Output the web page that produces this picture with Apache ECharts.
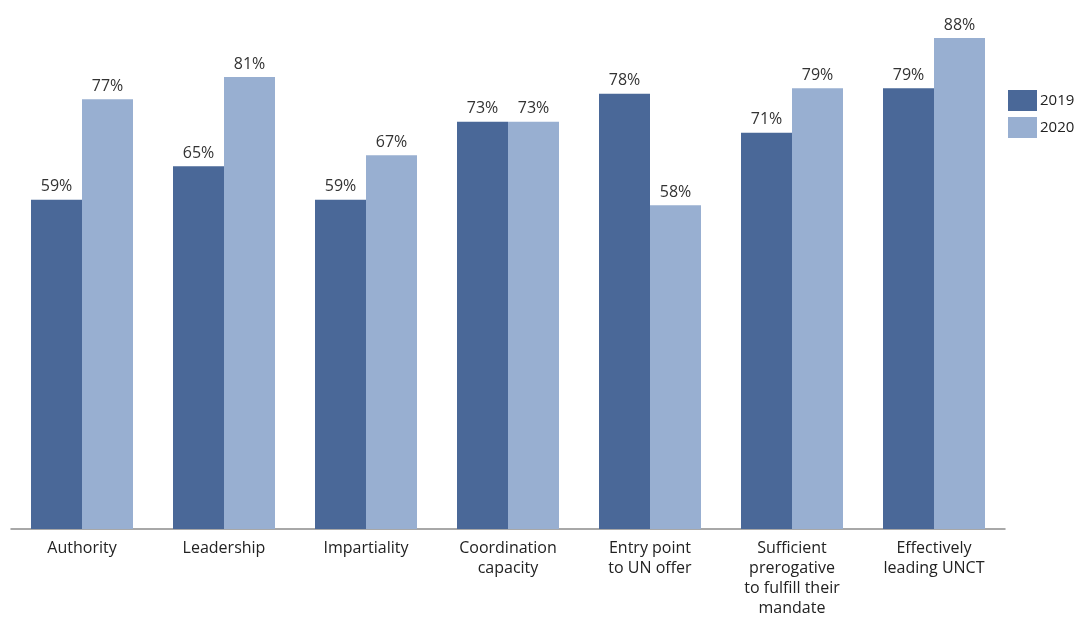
<!DOCTYPE html>
<html><head><meta charset="utf-8">
<script src="https://cdn.jsdelivr.net/npm/echarts@6/dist/echarts.min.js"></script>
<style>html,body{margin:0;padding:0;background:#fff}#c{width:1082px;height:618px}</style>
</head><body><div id="c"></div>
<script>
const categories = ["Authority","Leadership","Impartiality","Coordination\ncapacity","Entry point\nto UN offer","Sufficient\nprerogative\nto fulfill their\nmandate","Effectively\nleading UNCT"];
const values2019 = [59,65,59,73,78,71,79];
const values2020 = [77,81,67,73,58,79,88];
const seriesNames = ["2019","2020"];
const colors = ["#4a6898","#98afd1"];
const font = "'Open Sans', 'Noto Sans', sans-serif";
const chart = echarts.init(document.getElementById('c'));
const lbl = {show:true, position:'top', formatter:'{c}%', color:'#333', fontSize:16, fontFamily:font, distance:5};
chart.setOption({
  animation:false,
  grid:{left:11, right:77, top:0, bottom:88},
  legend:{orient:'vertical', left:1003, top:85, itemWidth:29, itemHeight:21, itemGap:6,
    textStyle:{fontSize:15, color:'#222', fontFamily:font, padding:[0,0,0,-2]}, icon:'rect', data:seriesNames},
  xAxis:{type:'category', data:categories,
    axisLine:{lineStyle:{color:'#8c8c8c', width:1.5}}, axisTick:{show:false},
    axisLabel:{color:'#222', fontSize:16, fontFamily:font, lineHeight:20, margin:9, interval:0}},
  yAxis:{type:'value', min:0, max:94.8, show:false, splitLine:{show:false}},
  series:[
    {name:seriesNames[0], type:'bar', data:values2019, barWidth:51, barGap:'0%', itemStyle:{color:colors[0]}, label:lbl},
    {name:seriesNames[1], type:'bar', data:values2020, barWidth:51, barGap:'0%', itemStyle:{color:colors[1]}, label:lbl}
  ]
});
</script></body></html>
